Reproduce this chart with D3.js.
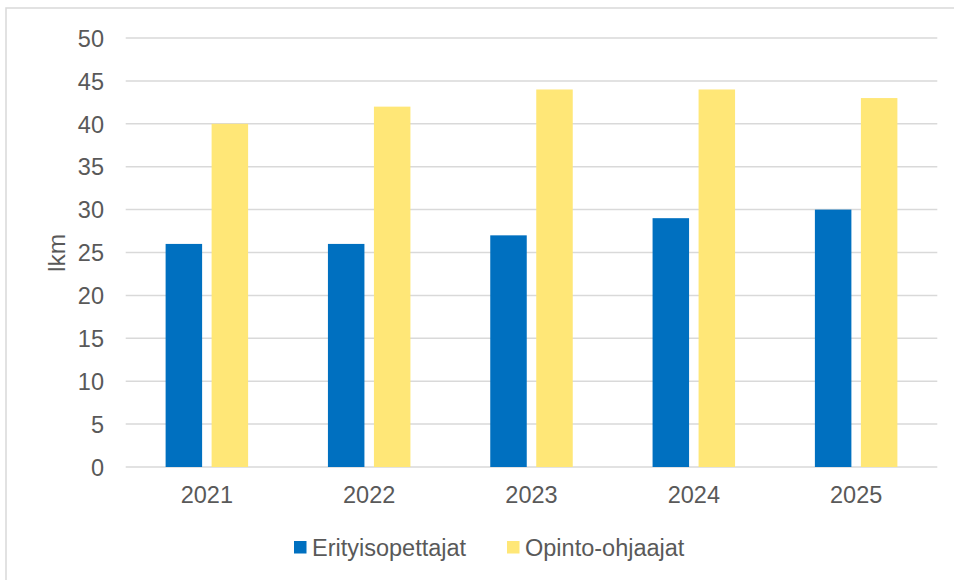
<!DOCTYPE html>
<html><head><meta charset="utf-8">
<script src="https://cdn.jsdelivr.net/npm/d3@7"></script>
<style>body{margin:0;background:#fff;} text{font-family:"Liberation Sans",Arial,sans-serif;}</style>
</head><body>
<svg id="c" width="954" height="580"></svg>
<script>
const categories = ["2021","2022","2023","2024","2025"];
const seriesNames = ["Erityisopettajat","Opinto-ohjaajat"];
const erityisopettajat = [26,26,27,29,30];
const opintoOhjaajat = [40,42,44,44,43];
const yTicks = [0,5,10,15,20,25,30,35,40,45,50];
const colors = ["#0070c0","#ffe777"];
const series = [erityisopettajat, opintoOhjaajat];

(function(){
const FS = 23.5;
const svg = d3.select("#c");
svg.append("rect").attr("x",6).attr("y",8).attr("width",960).attr("height",600)
  .attr("fill","#fff").attr("stroke","#d9d9d9").attr("stroke-width",1.5);

const pLeft=125.7, pRight=937.3, pTop=38, pBottom=467;
const x = d3.scaleBand().domain(categories).range([pLeft,pRight]).paddingInner(0).paddingOuter(0);
const y = d3.scaleLinear().domain([0,50]).range([pBottom,pTop]);

const g = svg.append("g");
g.selectAll("line.grid").data(yTicks).join("line")
  .attr("x1",pLeft).attr("x2",pRight)
  .attr("y1",d=>y(d)).attr("y2",d=>y(d))
  .attr("stroke","#d9d9d9").attr("stroke-width",1.5);

const yAxis = d3.axisLeft(y).tickValues(yTicks).tickSize(0).tickPadding(0);
const ya = svg.append("g").attr("transform","translate(104,0)").call(yAxis);
ya.select(".domain").remove();
ya.selectAll("text").attr("font-size",FS).attr("fill","#595959").attr("dy","0.35em")
  .style("font-family","'Liberation Sans',Arial,sans-serif");

const xAxis = d3.axisBottom(x).tickSize(0).tickPadding(0);
const xa = svg.append("g").attr("transform","translate(0,503)").call(xAxis);
xa.select(".domain").remove();
xa.selectAll("text").attr("font-size",FS).attr("fill","#595959").attr("dy","0")
  .style("font-family","'Liberation Sans',Arial,sans-serif");

const barW = 36.5, gap = 9.5;
series.forEach((vals,si)=>{
  g.selectAll("rect.s"+si).data(vals).join("rect").attr("class","s"+si)
    .attr("x",(d,i)=>x(categories[i]) + x.bandwidth()/2 - gap/2 - barW + si*(barW+gap))
    .attr("y",d=>y(d)).attr("width",barW).attr("height",d=>y(0)-y(d))
    .attr("fill",colors[si]);
});

svg.append("text").attr("transform","translate(65,253) rotate(-90)")
  .attr("text-anchor","middle").attr("font-size",24.5).attr("fill","#595959").text("lkm");

const legX = [294, 507];
seriesNames.forEach((n,i)=>{
  svg.append("rect").attr("x",legX[i]).attr("y",541).attr("width",12.5).attr("height",12.5).attr("fill",colors[i]);
  svg.append("text").attr("x",legX[i]+18).attr("y",555.5).attr("font-size",FS).attr("fill","#595959").text(n);
});
})();
</script>
</body></html>
